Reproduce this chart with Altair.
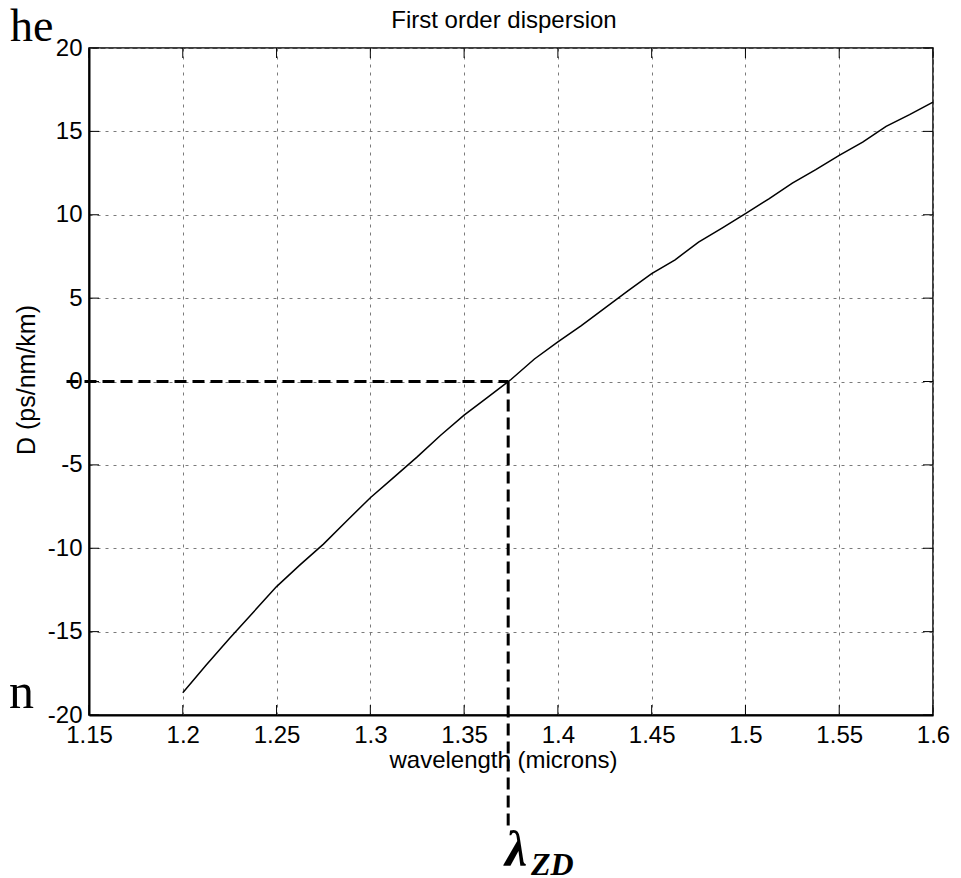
import altair as alt
import pandas as pd

# ---- data ----
wavelength = [1.2, 1.2125, 1.225, 1.2375, 1.25, 1.2625, 1.275, 1.2875, 1.3, 1.3125,
              1.325, 1.3375, 1.35, 1.3625, 1.375, 1.3875, 1.4, 1.4125, 1.425, 1.4375,
              1.45, 1.4625, 1.475, 1.4875, 1.5, 1.5125, 1.525, 1.5375, 1.55, 1.5625,
              1.575, 1.5875, 1.6]
dispersion = [-18.66, -17.0, -15.4, -13.85, -12.3, -11.0, -9.75, -8.35, -6.97, -5.75,
              -4.52, -3.22, -2.02, -0.95, 0.12, 1.35, 2.37, 3.35, 4.4, 5.45,
              6.47, 7.3, 8.36, 9.2, 10.07, 10.95, 11.9, 12.7, 13.56, 14.35,
              15.3, 16.0, 16.75]
x_ticks = [1.15, 1.2, 1.25, 1.3, 1.35, 1.4, 1.45, 1.5, 1.55, 1.6]
y_ticks = [-20, -15, -10, -5, 0, 5, 10, 15, 20]
lambda_zd = 1.3735          # zero-dispersion wavelength
hline_start = 1.138         # dashed marker starts left of the axis
title_text = "First order dispersion"
x_title = "wavelength (microns)"
y_title = "D (ps/nm/km)"

W, H = 844, 667
FONT = "Liberation Sans"
SERIF = "Liberation Serif"

df = pd.DataFrame({"wavelength": wavelength, "D": dispersion})
xt = pd.DataFrame({"wavelength": x_ticks})
yt = pd.DataFrame({"D": y_ticks})
zd = pd.DataFrame({"w0": [hline_start], "wavelength": [lambda_zd], "D": [0]})

xs = alt.Scale(domain=[1.15, 1.6], nice=False, zero=False)
ys = alt.Scale(domain=[-20, 20], nice=False, zero=False)
minus_fix = "replace(datum.label, '\u2212', '-')"

x_axis = alt.Axis(values=x_ticks, format=".2~f", labelExpr=minus_fix,
                  grid=True, gridDash=[3, 5], gridColor="#7a7a7a", gridWidth=1,
                  ticks=False, tickSize=0, domainColor="black", domainWidth=2,
                  labelFont=FONT, labelFontSize=24, labelColor="black",
                  labelBaseline="alphabetic", labelPadding=27, labelFlush=False,
                  labelOverlap=False, title=x_title, titleFont=FONT, titleFontSize=24,
                  titleFontWeight="normal", titleColor="black", titleX=414, titleY=52,
                  titleBaseline="alphabetic", titleAlign="center")
y_axis = alt.Axis(values=y_ticks, format="d", labelExpr=minus_fix,
                  grid=True, gridDash=[3, 5], gridColor="#7a7a7a", gridWidth=1,
                  ticks=False, tickSize=0, domainColor="black", domainWidth=2,
                  labelFont=FONT, labelFontSize=24, labelColor="black",
                  labelBaseline="middle", labelPadding=7, labelFlush=False,
                  labelOverlap=False, title="")


def X(field):
    return alt.X(field, type="quantitative", scale=xs, axis=x_axis)


def Y(field):
    return alt.Y(field, type="quantitative", scale=ys, axis=y_axis)


curve = alt.Chart(df).mark_line(color="black", strokeWidth=1.5).encode(
    x=X("wavelength"), y=Y("D"))

tick_style = dict(color="black", strokeWidth=1)
left_ticks = alt.Chart(yt).mark_rule(**tick_style).encode(
    y=Y("D"), x=alt.value(0), x2=alt.value(10))
right_ticks = alt.Chart(yt).mark_rule(**tick_style).encode(
    y=Y("D"), x=alt.value(W - 10), x2=alt.value(W))
bottom_ticks = alt.Chart(xt).mark_rule(**tick_style).encode(
    x=X("wavelength"), y=alt.value(H - 10), y2=alt.value(H))
top_ticks = alt.Chart(xt).mark_rule(**tick_style).encode(
    x=X("wavelength"), y=alt.value(0), y2=alt.value(10))

dash_style = dict(color="black", strokeWidth=3, strokeDash=[12, 6])
hline = alt.Chart(zd).mark_rule(**dash_style).encode(
    x=X("w0"), x2="wavelength:Q", y=Y("D"))
vline = alt.Chart(zd).mark_rule(**dash_style).encode(
    x=X("wavelength"), y=Y("D"), y2=alt.value(782))

one = alt.Data(values=[{}])


def label(text, x, y, **kw):
    return alt.Chart(one).mark_text(**kw).encode(
        text=alt.value(text), x=alt.value(x), y=alt.value(y))


title_mark = label(title_text, 415, -20, font=FONT, fontSize=24, align="center",
                   baseline="alphabetic", color="black")
ylab = label(y_title, -62, 332, font=FONT, fontSize=25, align="center",
             baseline="middle", angle=270, color="black")
he = label("he", -79, -7, font=SERIF, fontSize=46, align="left",
           baseline="alphabetic", color="black")
n_frag = label("n", -80, 660, font=SERIF, fontSize=50, align="left",
               baseline="alphabetic", color="black")
lam = label("\u03bb", 416, 818, font=SERIF, fontSize=50, align="left",
            baseline="alphabetic", fontStyle="italic", fontWeight="bold", color="black")
zd_sub = label("ZD", 442, 827, font=SERIF, fontSize=32, align="left",
               baseline="alphabetic", fontStyle="italic", fontWeight="bold", color="black")

chart = alt.layer(
    curve, left_ticks, right_ticks, bottom_ticks, top_ticks, hline, vline,
    title_mark, ylab, he, n_frag, lam, zd_sub
).properties(
    width=W, height=H,
    autosize=alt.AutoSizeParams(type="none"),
    padding={"left": 81, "top": 40, "right": 20, "bottom": 163},
    background="white",
).configure_view(stroke="black", strokeWidth=1.5)

chart.save("out.html", embed_options={"renderer": "svg", "actions": False})
